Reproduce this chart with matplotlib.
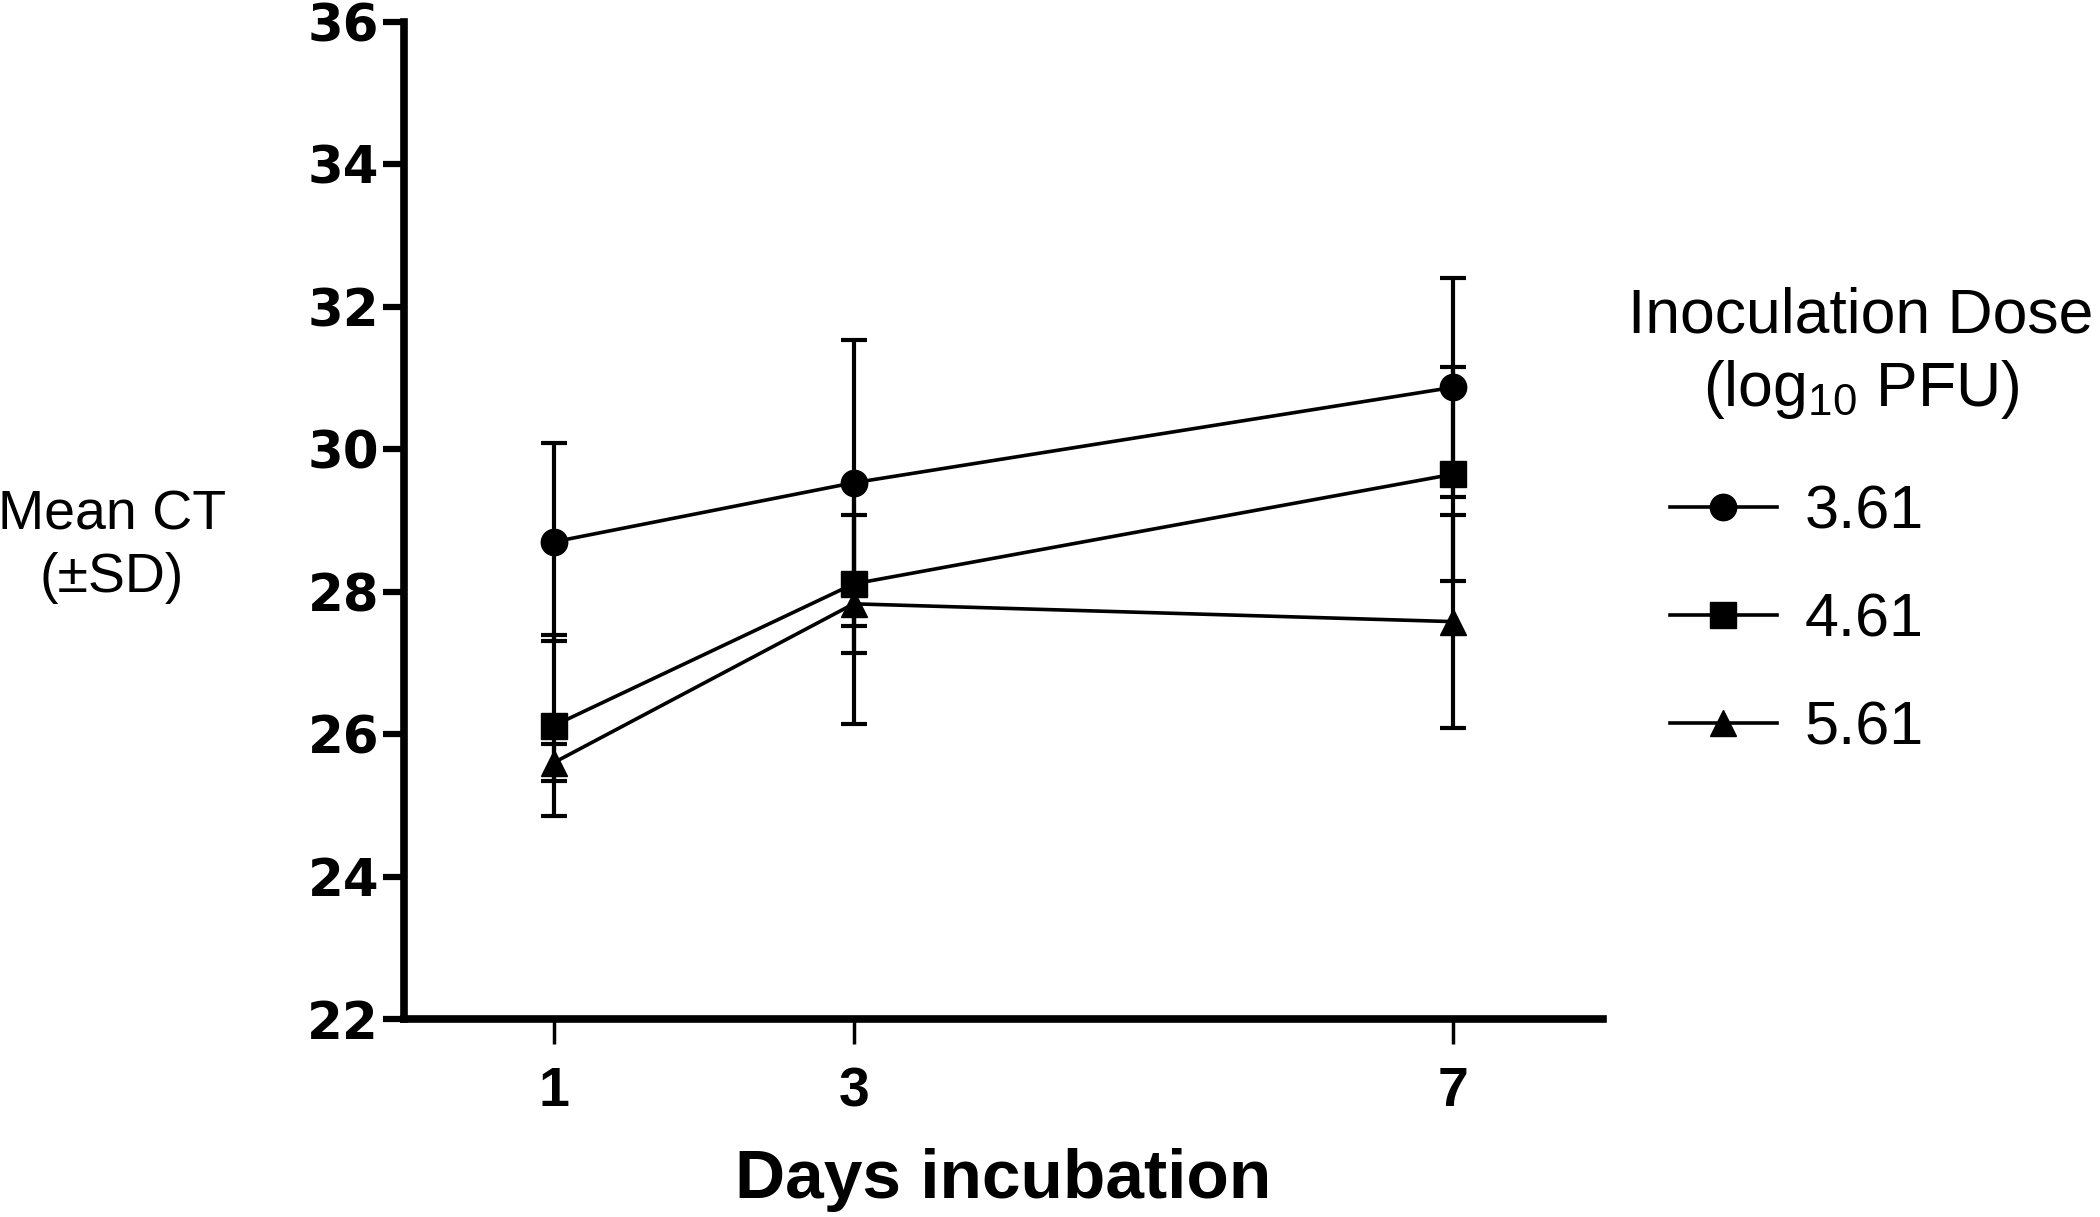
import matplotlib
matplotlib.use("Agg")
import matplotlib.pyplot as plt

# days of incubation and mean CT (+/- SD) per inoculation dose
days = [1, 3, 7]
dose_labels = ["3.61", "4.61", "5.61"]
ct_361 = [28.70, 29.53, 30.87]
sd_361 = [1.39, 2.01, 1.54]
ct_461 = [26.12, 28.11, 29.65]
sd_461 = [1.27, 0.97, 1.50]
ct_561 = [25.60, 27.83, 27.58]
sd_561 = [0.26, 1.69, 1.50]
y_ticks = [22, 24, 26, 28, 30, 32, 34, 36]

plt.rcParams["font.family"] = ["Liberation Sans", "DejaVu Sans"]
plt.rcParams["mathtext.fontset"] = "custom"
plt.rcParams["mathtext.rm"] = "Liberation Sans"
plt.rcParams["mathtext.it"] = "Liberation Sans"

W, H = 2100, 1217
fig = plt.figure(figsize=(W / 100, H / 100), dpi=100)
ax = fig.add_axes([404 / W, 1 - 1019 / H, (1603 - 404) / W, (1019 - 22) / H])

series = [(ct_361, sd_361, "o"), (ct_461, sd_461, "s"), (ct_561, sd_561, "^")]
handles = []
for (ct, sd, mk), lab in zip(series, dose_labels):
    cont = ax.errorbar(days, ct, yerr=sd, color="black", marker=mk, markersize=19,
                       linewidth=2.6, elinewidth=3.0, capsize=9.5, capthick=3.0,
                       label=lab, clip_on=False)
    handles.append(cont[0])

ax.set_xlim(0, 8)
ax.set_ylim(22, 36)
ax.set_xticks(days)
ax.set_yticks(y_ticks)

for s in ["top", "right"]:
    ax.spines[s].set_visible(False)
for s in ["left", "bottom"]:
    ax.spines[s].set_linewidth(5.5)
    ax.spines[s].set_capstyle("projecting")

ax.tick_params(axis="y", length=15, width=4.5, pad=3)
ax.tick_params(axis="x", length=18, width=2.5, pad=16)

for t in ax.get_yticklabels():
    t.set_fontfamily("DejaVu Sans")
    t.set_fontweight("bold")
    t.set_fontsize(37)
for t in ax.get_xticklabels():
    t.set_fontweight("bold")
    t.set_fontsize(40)

fig.text(1003 / W, 1 - 1180 / H, "Days incubation", ha="center", va="center",
         fontsize=50, fontweight="bold")
fig.text(112 / W, 1 - 547 / H, "Mean CT\n(\u00b1SD)", ha="center", va="center",
         fontsize=40, multialignment="center", linespacing=1.25)

fig.text(1861 / W, 1 - 354 / H, "Inoculation Dose\n(log$_{10}$ PFU)", ha="center",
         va="center", fontsize=45, multialignment="center", linespacing=1.25)

leg = ax.legend(handles, dose_labels, loc="center left",
                bbox_to_anchor=(1670 / W, 1 - 621 / H), bbox_transform=fig.transFigure,
                frameon=False, fontsize=44, handlelength=1.75, handletextpad=0.45,
                labelspacing=0.83, borderpad=0, borderaxespad=0)

fig.savefig("out.png", dpi=100)
